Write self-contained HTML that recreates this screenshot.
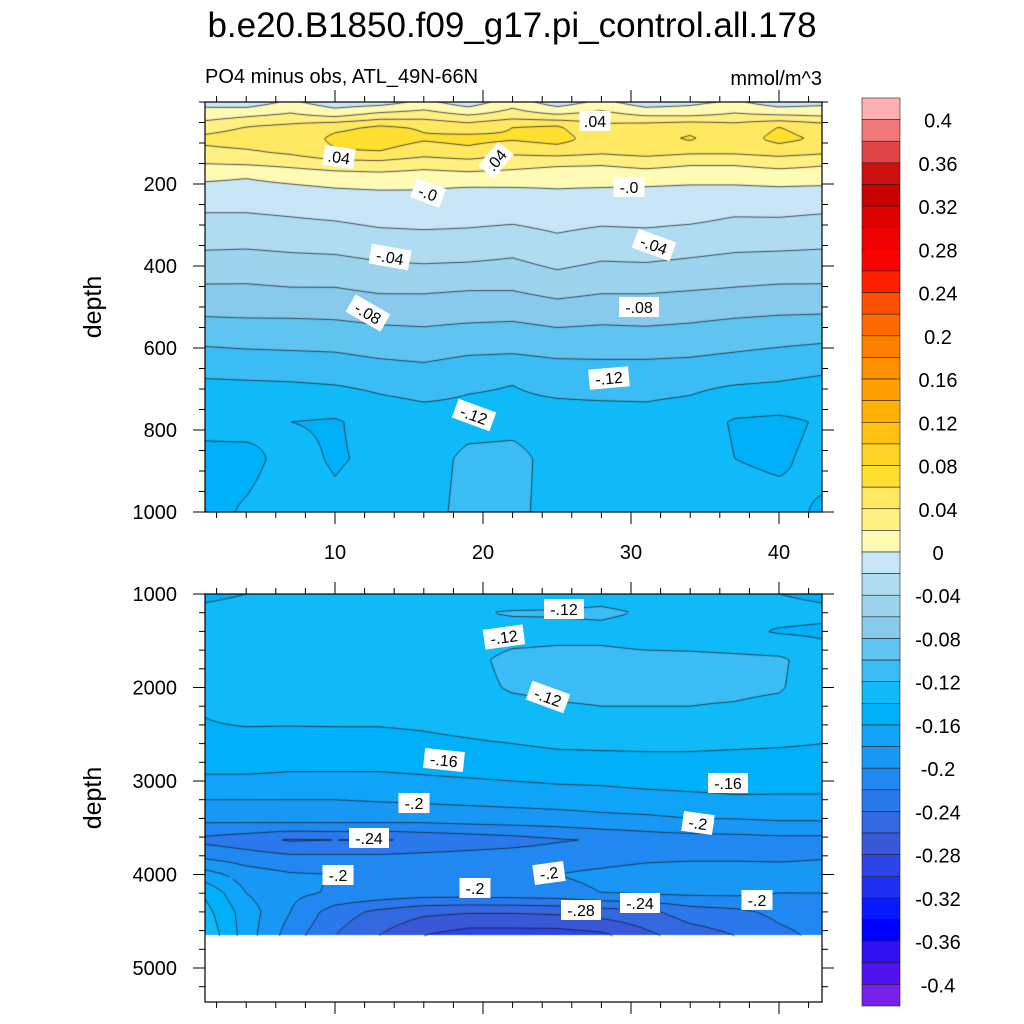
<!DOCTYPE html>
<html><head><meta charset="utf-8">
<style>
html,body{margin:0;padding:0;background:#fff;width:1024px;height:1024px;overflow:hidden}
#wrap{position:relative;width:1024px;height:1024px}
canvas{position:absolute}
svg{position:absolute;left:0;top:0}
text{font-family:"Liberation Sans",sans-serif;fill:#000}
</style></head>
<body>
<div id="wrap">
<canvas id="c1" style="left:205px;top:102px" width="617" height="410"></canvas>
<canvas id="c2" style="left:205px;top:594px" width="617" height="408"></canvas>
<svg id="ov" width="1024" height="1024"></svg>
</div>
<script>
// ---------- data ----------
const lonCols = [1,4,7,10,13,16,19,22,25,28,31,34,37,40,43];
const topDepths = [0,30,60,90,120,150,180,220,290,380,460,535,610,690,780,870,1000];
const topVals = [
[-.006,-.012,.004,-.012,-.01,.006,-.012,.012,-.012,.006,-.012,-.006,.004,-.012,-.006],
[.008,.015,.022,.012,.025,.028,.018,.028,.02,.026,.016,.015,.022,.018,.015],
[.03,.04,.045,.055,.062,.058,.05,.06,.062,.045,.05,.055,.048,.06,.05],
[.045,.05,.045,.065,.07,.062,.066,.062,.068,.05,.055,.062,.05,.066,.056],
[.035,.038,.045,.058,.06,.05,.055,.045,.05,.045,.05,.045,.045,.05,.045],
[.02,.022,.026,.032,.034,.028,.032,.028,.024,.022,.026,.022,.022,.026,.022],
[.006,.002,.008,.012,.014,.012,.014,.012,.008,.01,.012,.01,.01,.012,.012],
[-.01,-.01,-.008,-.004,-.002,-.002,-.006,-.005,-.002,-.004,-.006,-.008,-.008,-.006,-.008],
[-.024,-.024,-.022,-.02,-.016,-.015,-.016,-.018,-.014,-.017,-.016,-.018,-.022,-.022,-.024],
[-.044,-.045,-.043,-.042,-.038,-.036,-.037,-.04,-.032,-.038,-.037,-.04,-.043,-.044,-.045],
[-.064,-.064,-.062,-.062,-.058,-.058,-.06,-.06,-.054,-.058,-.058,-.06,-.062,-.064,-.064],
[-.083,-.082,-.082,-.081,-.078,-.077,-.079,-.08,-.076,-.078,-.077,-.079,-.082,-.084,-.085],
[-.104,-.102,-.101,-.1,-.096,-.094,-.098,-.099,-.096,-.096,-.096,-.097,-.1,-.103,-.106],
[-.124,-.123,-.122,-.12,-.116,-.113,-.118,-.12,-.116,-.114,-.114,-.116,-.12,-.122,-.126],
[-.138,-.134,-.14,-.142,-.132,-.128,-.126,-.125,-.127,-.128,-.127,-.13,-.142,-.144,-.138],
[-.142,-.145,-.134,-.142,-.136,-.128,-.116,-.115,-.126,-.124,-.126,-.128,-.14,-.142,-.136],
[-.146,-.138,-.131,-.136,-.13,-.126,-.115,-.116,-.126,-.124,-.128,-.13,-.135,-.136,-.142]
];
const botDepths = [1000,1200,1400,1700,2000,2300,2600,2900,3200,3450,3630,3800,4000,4200,4400,4650];
const botVals = [
[-.145,-.14,-.135,-.132,-.132,-.13,-.128,-.135,-.13,-.128,-.13,-.132,-.135,-.14,-.145],
[-.135,-.132,-.125,-.125,-.126,-.128,-.122,-.118,-.118,-.116,-.122,-.128,-.13,-.132,-.135],
[-.138,-.134,-.13,-.13,-.132,-.132,-.13,-.128,-.126,-.126,-.13,-.132,-.135,-.142,-.144],
[-.135,-.132,-.13,-.13,-.132,-.13,-.125,-.115,-.114,-.114,-.115,-.115,-.116,-.117,-.13],
[-.138,-.136,-.134,-.134,-.134,-.132,-.126,-.118,-.116,-.116,-.116,-.116,-.116,-.118,-.132],
[-.14,-.138,-.137,-.136,-.136,-.135,-.132,-.128,-.124,-.122,-.122,-.122,-.124,-.128,-.134],
[-.142,-.143,-.145,-.146,-.146,-.144,-.142,-.14,-.137,-.136,-.136,-.136,-.137,-.138,-.14],
[-.158,-.158,-.16,-.16,-.16,-.158,-.156,-.154,-.152,-.152,-.15,-.15,-.151,-.152,-.152],
[-.18,-.18,-.18,-.18,-.178,-.176,-.174,-.172,-.17,-.168,-.166,-.164,-.162,-.162,-.162],
[-.2,-.2,-.2,-.2,-.2,-.2,-.198,-.196,-.194,-.19,-.188,-.184,-.184,-.182,-.182],
[-.225,-.232,-.242,-.24,-.242,-.236,-.232,-.228,-.222,-.218,-.212,-.21,-.208,-.206,-.206],
[-.205,-.212,-.218,-.218,-.218,-.216,-.214,-.212,-.21,-.208,-.205,-.204,-.204,-.204,-.202],
[-.17,-.19,-.198,-.2,-.202,-.204,-.206,-.204,-.2,-.196,-.192,-.19,-.19,-.192,-.192],
[-.14,-.18,-.196,-.202,-.206,-.21,-.21,-.208,-.206,-.2,-.198,-.196,-.196,-.2,-.2],
[-.13,-.17,-.2,-.23,-.245,-.255,-.258,-.258,-.256,-.25,-.245,-.23,-.225,-.215,-.21],
[-.12,-.17,-.21,-.24,-.26,-.28,-.29,-.29,-.29,-.285,-.265,-.25,-.24,-.225,-.215]
];
const barColors = ["#ffb0b0","#f07878","#e04444","#cc1010","#c80000","#e00000","#f00000","#ff0000","#ff2000","#ff5000","#ff6a00","#ff8000","#ff9000","#ffa000","#ffb000","#ffc014","#ffd226","#ffe030","#ffe862","#fff084","#fffab4","#c8e6f6","#b0dcf2","#9cd4ee","#88caec","#60c4f0","#3cbcf4","#10baf8","#00b0f8","#10a4f8","#1898f4","#2088f0","#2a78ec","#3468e0","#3858d8","#2c44e8","#2030f0","#0a18ff","#0000ff","#3010f0","#5010f0","#7820e8"];
const barLabels = ["0.4","0.36","0.32","0.28","0.24","0.2","0.16","0.12","0.08","0.04","0","-0.04","-0.08","-0.12","-0.16","-0.2","-0.24","-0.28","-0.32","-0.36","-0.4"];
const xTicks = [10,20,30,40];
const topYTicks = [200,400,600,800,1000];
const botYTicks = [1000,2000,3000,4000,5000];
const topLabels = [[".04",595,121,0],[".04",339,157,8],[".04",496,160,-50],["-.0",428,193,20],["-.0",629,187,0],["-.04",390,257,10],["-.04",654,245,20],["-.08",368,313,30],["-.08",639,307,0],["-.12",609,378,-5],["-.12",474,415,20]];
const botLabels = [["-.12",564,609,0],["-.12",504,637,-8],["-.12",548,697,20],["-.16",444,760,6],["-.16",728,783,0],["-.2",414,803,0],["-.2",698,823,8],["-.24",369,838,0],["-.2",338,875,0],["-.2",549,873,-8],["-.2",475,888,0],["-.28",581,910,0],["-.24",640,903,0],["-.2",757,900,0]];

// ---------- scales ----------
const xPx = x => 187 + x*14.8;
const xData = px => (px-187)/14.8;
const topY = d => 102 + d*0.41;
const topD = py => (py-102)/0.41;
const botY = d => 594 + (d-1000)*0.0935;
const botD = py => 1000 + (py-594)/0.0935;

function interp(arr, v){
  if(v<=arr[0]) return [0,0];
  for(let i=0;i<arr.length-1;i++){ if(v<=arr[i+1]) return [i,(v-arr[i])/(arr[i+1]-arr[i])]; }
  return [arr.length-2,1];
}
function field(vals, depths, x, d){
  const [i,fx]=interp(lonCols,x), [j,fy]=interp(depths,d);
  const a=vals[j][i], b=vals[j][i+1], c=vals[j+1][i], e=vals[j+1][i+1];
  return (a*(1-fx)+b*fx)*(1-fy)+(c*(1-fx)+e*fx)*fy;
}
function colorIdx(v){ let k=Math.floor((0.42-v)/0.02+1e-9); return Math.max(0,Math.min(41,k)); }
function hex(h){return [parseInt(h.substr(1,2),16),parseInt(h.substr(3,2),16),parseInt(h.substr(5,2),16)];}
const rgb = barColors.map(hex);

function drawPanel(canvasId, vals, depths, dOf, maxDepth, left, top){
  const cv=document.getElementById(canvasId), ctx=cv.getContext('2d');
  const W=cv.width,H=cv.height, img=ctx.createImageData(W,H);
  for(let py=0;py<H;py++){
    const d=dOf(top+py+0.5);
    for(let px=0;px<W;px++){
      const o=(py*W+px)*4;
      if(d>maxDepth){img.data[o]=255;img.data[o+1]=255;img.data[o+2]=255;img.data[o+3]=255;continue;}
      const v=field(vals,depths,xData(left+px+0.5),d);
      const c=rgb[colorIdx(v)];
      img.data[o]=c[0];img.data[o+1]=c[1];img.data[o+2]=c[2];img.data[o+3]=255;
    }
  }
  ctx.putImageData(img,0,0);
  const S=2, nx=Math.ceil(W/S)+1, ny=Math.ceil(H/S)+1, g=[];
  for(let j=0;j<ny;j++){const row=[];const d=Math.min(dOf(top+j*S),maxDepth);
    for(let i=0;i<nx;i++) row.push(field(vals,depths,xData(left+i*S),d)); g.push(row);}
  ctx.strokeStyle="rgba(20,28,36,0.95)"; ctx.lineWidth=0.8; ctx.beginPath();
  for(let L=-20;L<=20;L++){const lv=L*0.02;
    for(let j=0;j<ny-1;j++){ if(dOf(top+j*S)>maxDepth) continue;
      for(let i=0;i<nx-1;i++){
        const a=g[j][i],b=g[j][i+1],c=g[j+1][i+1],e=g[j+1][i];
        const pts=[];
        const X0=i*S,Y0=j*S;
        if((a-lv)*(b-lv)<0) pts.push([X0+S*(lv-a)/(b-a),Y0]);
        if((b-lv)*(c-lv)<0) pts.push([X0+S,Y0+S*(lv-b)/(c-b)]);
        if((e-lv)*(c-lv)<0) pts.push([X0+S*(lv-e)/(c-e),Y0+S]);
        if((a-lv)*(e-lv)<0) pts.push([X0,Y0+S*(lv-a)/(e-a)]);
        for(let k=0;k+1<pts.length;k+=2){ctx.moveTo(pts[k][0],pts[k][1]);ctx.lineTo(pts[k+1][0],pts[k+1][1]);}
      }}}
  ctx.stroke();
}
drawPanel('c1',topVals,topDepths,topD,1000,205,102);
drawPanel('c2',botVals,botDepths,botD,4650,205,594);

// ---------- overlay ----------
const NS="http://www.w3.org/2000/svg", ov=document.getElementById('ov');
function mk(tag,attrs,parent){const e=document.createElementNS(NS,tag);for(const k in attrs)e.setAttribute(k,attrs[k]);(parent||ov).appendChild(e);return e;}
function txt(s,attrs,parent){const e=mk('text',attrs,parent);e.textContent=s;return e;}

const tt=txt("b.e20.B1850.f09_g17.pi_control.all.178",{x:512,y:37,"font-size":35,"text-anchor":"middle"});


const st=txt("PO4 minus obs, ATL_49N-66N",{x:205,y:83,"font-size":20});


const un=txt("mmol/m^3",{x:822,y:85,"font-size":20,"text-anchor":"end"});



function axes(panel, y0, y1, yScale, yTicks, minorStep, dmin, dmax, showX){
  const g=mk('g',{});
  
  
  const fr=mk('rect',{x:205,y:y0,width:617,height:y1-y0,fill:"none",stroke:"#000","stroke-width":1.2},g);
  
  
  for(let d=dmin; d<=dmax; d+=minorStep){
    const y=yScale(d); if(y<y0-0.5||y>y1+0.5) continue;
    const major=yTicks.indexOf(d)>=0, len=major?12:6;
    mk('line',{x1:205,x2:205-len,y1:y,y2:y,stroke:"#000","stroke-width":1},g);
    mk('line',{x1:822,x2:822+len,y1:y,y2:y,stroke:"#000","stroke-width":1},g);
  }
  yTicks.forEach(d=>{const y=yScale(d);
    const t=txt(String(d),{x:177,y:y+7,"font-size":20,"text-anchor":"end"},g);
    
    
  });
  for(let x=2;x<=42;x+=2){
    const px=xPx(x), major=xTicks.indexOf(x)>=0, len=major?12:6;
    mk('line',{x1:px,x2:px,y1:y0,y2:y0-len,stroke:"#000","stroke-width":1},g);
    mk('line',{x1:px,x2:px,y1:y1,y2:y1+len,stroke:"#000","stroke-width":1},g);
  }
  if(showX) xTicks.forEach(x=>{
    const t=txt(String(x),{x:xPx(x),y:y1+47,"font-size":20,"text-anchor":"middle"},g);
    
    
  });
  const yc=(y0+y1)/2;
  const yt=txt("depth",{x:101,y:yc,"font-size":25,"text-anchor":"middle",transform:`rotate(-90 101 ${yc})`},g);
  
  
}
axes('upper',102,512,topY,topYTicks,50,0,1000,true);
axes('lower',594,1002,botY,botYTicks,200,1000,5400,false);

function labels(list, panel){
  list.forEach(l=>{
    const g=mk('g',{transform:`translate(${l[1]},${l[2]}) rotate(${l[3]})`});
    
    
    const w=l[0].length*9+4;
    mk('rect',{x:-w/2,y:-10,width:w,height:20,fill:"#fff"},g);
    txt(l[0],{x:0,y:6,"font-size":16,"text-anchor":"middle"},g);
  });
}
labels(topLabels,'upper');
labels(botLabels,'lower');

const cb=mk('g',{});


const bh=(1006-98)/barColors.length;
barColors.forEach((c,k)=>{
  const r=mk('rect',{x:862,y:98+k*bh,width:38,height:bh,fill:c,stroke:"#222","stroke-width":0.6},cb);
  
  
});
barLabels.forEach((s,i)=>{
  const y=98+(i*2+1)*bh;
  const t=txt(s,{x:938,y:y+8,"font-size":20,"text-anchor":"middle"},cb);
  
  
});
</script>
</body></html>
